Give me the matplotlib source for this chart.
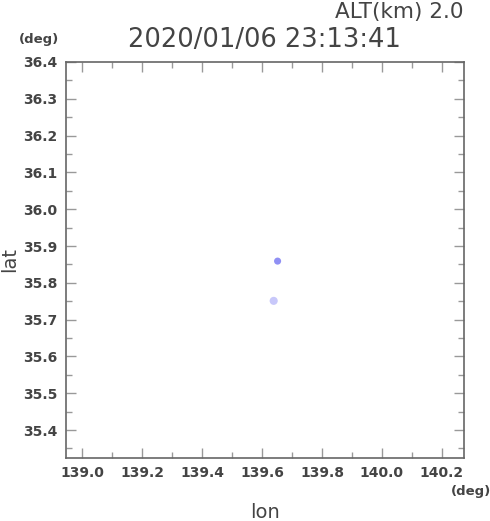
import matplotlib
matplotlib.use("Agg")
import matplotlib.pyplot as plt
from matplotlib.ticker import MultipleLocator

# data
lon = [139.652, 139.639]
lat = [35.859, 35.751]
colors = ['#9090f4', '#c8c8fa']
sizes = [26, 34]

title = '2020/01/06 23:13:41'
alt_text = 'ALT(km) 2.0'

fig = plt.figure(figsize=(4.9, 5.21), dpi=100)
ax = fig.add_axes([66 / 490, 63 / 521, 398 / 490, 396 / 521])

ax.scatter(lon, lat, s=sizes, c=colors, edgecolors='none', zorder=3)

ax.set_xlim(138.946, 140.274)
ax.set_ylim(35.324, 36.4)
ax.xaxis.set_major_locator(MultipleLocator(0.2))
ax.xaxis.set_minor_locator(MultipleLocator(0.1))
ax.yaxis.set_major_locator(MultipleLocator(0.1))
ax.yaxis.set_minor_locator(MultipleLocator(0.05))
ax.xaxis.set_major_formatter(lambda v, p: f'{v:.1f}')
ax.yaxis.set_major_formatter(lambda v, p: f'{v:.1f}')

frame_color = '#666666'
for s in ax.spines.values():
    s.set_color(frame_color)
    s.set_linewidth(1.2)
ax.tick_params(which='both', direction='in', top=True, right=True,
               color='#999999', labelcolor='#444444')
ax.tick_params(which='major', length=7, width=1)
ax.tick_params(which='minor', length=4, width=1)
for lbl in ax.get_xticklabels() + ax.get_yticklabels():
    lbl.set_fontweight('bold')
    lbl.set_fontsize(10)
ax.tick_params(axis='x', pad=6)
ax.tick_params(axis='y', pad=6)

fig.text(463 / 490, 1 - 12 / 521, alt_text, ha='right', va='center',
         fontsize=15.5, color='#444444')
fig.text(264 / 490, 1 - 40 / 521, title, ha='center', va='center',
         fontsize=18.5, color='#444444')
fig.text(39 / 490, 1 - 40 / 521, '(deg)', ha='center', va='center',
         fontsize=9.5, fontweight='bold', color='#444444')
fig.text(471 / 490, 1 - 491 / 521, '(deg)', ha='center', va='center',
         fontsize=9.5, fontweight='bold', color='#444444')
fig.text(265 / 490, 1 - 513 / 521, 'lon', ha='center', va='center',
         fontsize=14, color='#444444')
fig.text(10 / 490, 1 - 260 / 521, 'lat', ha='center', va='center',
         fontsize=14, rotation=90, color='#444444')

fig.savefig('out.png', dpi=100)
